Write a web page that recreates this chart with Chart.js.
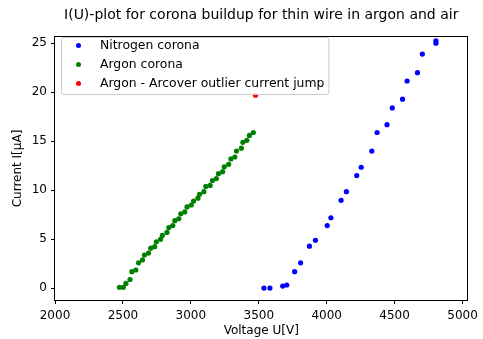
<!DOCTYPE html>
<html>
<head>
<meta charset="utf-8">
<script src="https://cdn.jsdelivr.net/npm/chart.js@4/dist/chart.umd.min.js"></script>
<style>
html,body{margin:0;padding:0;background:#fff;}
#c{display:block;}
</style>
</head>
<body>
<canvas id="c" width="483" height="339"></canvas>
<script>
// ---- data ----
const nitrogenV = [3538, 3582, 3676, 3706, 3764, 3808, 3873, 3917, 4004, 4031, 4106, 4145, 4221, 4254, 4332, 4371, 4444, 4483, 4558, 4592, 4668, 4704, 4804, 4804];
const nitrogenI = [0.03, 0.03, 0.23, 0.34, 1.7, 2.6, 4.3, 4.9, 6.4, 7.2, 8.98, 9.86, 11.5, 12.35, 14.0, 15.9, 16.7, 18.4, 19.3, 21.15, 22.0, 23.9, 25.0, 25.25];

const argonV = [2474, 2503, 2522, 2552, 2566, 2595, 2615, 2644, 2658, 2688, 2705, 2734, 2746, 2777, 2790, 2824, 2838, 2867, 2882, 2911, 2926, 2955, 2972, 3003, 3020, 3052, 3064, 3096, 3110, 3142, 3159, 3188, 3203, 3234, 3246, 3278, 3295, 3324, 3336, 3372, 3383, 3412, 3431, 3460];
const argonI = [0.1, 0.1, 0.5, 0.9, 1.7, 1.87, 2.6, 2.9, 3.4, 3.6, 4.1, 4.25, 4.75, 5.0, 5.4, 5.7, 6.2, 6.4, 6.9, 7.1, 7.6, 7.8, 8.3, 8.5, 8.9, 9.2, 9.6, 9.86, 10.4, 10.5, 11.0, 11.2, 11.7, 11.9, 12.4, 12.65, 13.2, 13.4, 14.0, 14.3, 14.9, 15.1, 15.6, 15.9];

const outlierV = [3476];
const outlierI = [19.7];

const seriesLabels = ["Nitrogen corona", "Argon corona", "Argon - Arcover outlier current jump"];
const xTicks = [2000, 2500, 3000, 3500, 4000, 4500, 5000];
const yTicks = [0, 5, 10, 15, 20, 25];

const titleText = "I(U)-plot for corona buildup for thin wire in argon and air";
const xTitle = "Voltage U[V]";
const yTitle = "Current I[\u03bcA]";

function pts(xs, ys) { return xs.map((x, i) => ({x: x, y: ys[i]})); }

Chart.defaults.font.family = "'DejaVu Sans', sans-serif";
Chart.defaults.color = '#000';

const framePlugin = {
  id: 'frame',
  afterDraw(chart) {
    const a = chart.chartArea, ctx = chart.ctx;
    ctx.save();
    ctx.strokeStyle = '#000';
    ctx.lineWidth = 1;
    const l = Math.round(a.left) - 0.5, t = Math.round(a.top) - 0.5;
    const r = Math.round(a.right) + 0.5, b = Math.round(a.bottom) + 0.5;
    ctx.strokeRect(l, t, r - l, b - t);
    ctx.restore();
  }
};

const legendPlugin = {
  id: 'mplLegend',
  afterDraw(chart) {
    const a = chart.chartArea, ctx = chart.ctx;
    const fs = 12.4;
    ctx.save();
    ctx.font = fs + "px 'DejaVu Sans'";
    let maxW = 0;
    chart.data.datasets.forEach(d => { maxW = Math.max(maxW, ctx.measureText(d.label).width); });
    const bx = a.left + 6.5, by = a.top + 0.5;
    const rowH = 19;
    const pad = 4.5;
    const handle = 25, gap = 9;
    const bw = pad + handle + gap + maxW + pad;
    const bh = 8 + rowH * (chart.data.datasets.length - 1) + 11;
    ctx.beginPath();
    const r = 2.5;
    ctx.moveTo(bx + r, by);
    ctx.arcTo(bx + bw, by, bx + bw, by + bh, r);
    ctx.arcTo(bx + bw, by + bh, bx, by + bh, r);
    ctx.arcTo(bx, by + bh, bx, by, r);
    ctx.arcTo(bx, by, bx + bw, by, r);
    ctx.closePath();
    ctx.fillStyle = 'rgba(255,255,255,0.8)';
    ctx.fill();
    ctx.strokeStyle = '#cccccc';
    ctx.lineWidth = 1;
    ctx.stroke();
    chart.data.datasets.forEach((d, i) => {
      const cy = by + 8 + i * rowH;
      ctx.beginPath();
      ctx.arc(bx + pad + handle / 2, cy, 2.5, 0, Math.PI * 2);
      ctx.fillStyle = d.backgroundColor;
      ctx.fill();
      ctx.fillStyle = '#000';
      ctx.textBaseline = 'middle';
      ctx.textAlign = 'left';
      ctx.fillText(d.label, bx + pad + handle + gap, cy);
    });
    ctx.restore();
  }
};

new Chart(document.getElementById('c'), {
  type: 'scatter',
  data: {
    datasets: [
      { label: seriesLabels[0], data: pts(nitrogenV, nitrogenI), backgroundColor: '#0000ff', borderWidth: 0, pointRadius: 2.6 },
      { label: seriesLabels[1], data: pts(argonV, argonI), backgroundColor: '#008000', borderWidth: 0, pointRadius: 2.6 },
      { label: seriesLabels[2], data: pts(outlierV, outlierI), backgroundColor: '#ff0000', borderWidth: 0, pointRadius: 2.6 }
    ]
  },
  options: {
    responsive: false,
    animation: false,
    devicePixelRatio: 1,
    layout: { padding: { left: 0, right: 11, top: 0, bottom: 0 } },
    plugins: {
      legend: { display: false },
      tooltip: { enabled: false },
      title: {
        display: true,
        text: titleText,
        fullSize: false,
        font: { size: 14, weight: 'normal' },
        color: '#000',
        padding: { top: 6.6, bottom: 13.6 }
      }
    },
    scales: {
      x: {
        type: 'linear',
        min: 2000,
        max: 5036,
        afterBuildTicks: s => { s.ticks = xTicks.map(v => ({ value: v })); },
        afterFit: s => { s.height = 39; },
        ticks: { callback: v => String(v), font: { size: 12 }, padding: 5, maxRotation: 0, autoSkip: false, color: '#000' },
        grid: { display: true, drawOnChartArea: false, drawTicks: true, tickLength: 4, color: '#000', lineWidth: 1 },
        border: { display: false },
        title: { display: true, text: xTitle, font: { size: 12 }, padding: { top: 0, bottom: 1 }, color: '#000' }
      },
      y: {
        type: 'linear',
        min: -1.19,
        max: 25.64,
        afterBuildTicks: s => { s.ticks = yTicks.map(v => ({ value: v })); },
        afterFit: s => { s.width = 55; },
        ticks: { callback: v => String(v), font: { size: 12 }, padding: 4, autoSkip: false, color: '#000' },
        grid: { display: true, drawOnChartArea: false, drawTicks: true, tickLength: 4, color: '#000', lineWidth: 1 },
        border: { display: false },
        title: { display: true, text: yTitle, font: { size: 12 }, padding: { top: 11, bottom: 0 }, color: '#000' }
      }
    }
  },
  plugins: [framePlugin, legendPlugin]
});
</script>
</body>
</html>
